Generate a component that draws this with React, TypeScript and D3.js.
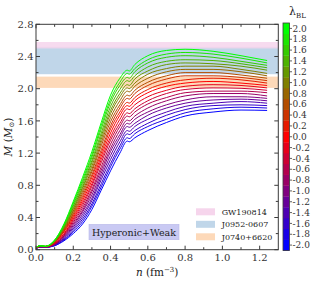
import React from "react";
import * as d3 from "d3";

// ---- data ----
const N_GRID = [0.003, 0.02, 0.05, 0.1, 0.15, 0.2, 0.25, 0.3, 0.35, 0.4, 0.45, 0.49, 0.5, 0.53, 0.6, 0.7, 0.8, 0.95, 1.1, 1.24];

const LAMBDA_BL = [-2.0, -1.8, -1.6, -1.4, -1.2, -1.0, -0.8, -0.6, -0.4, -0.2, 0.0, 0.2, 0.4, 0.6, 0.8, 1.0, 1.2, 1.4, 1.6, 1.8, 2.0];

const MASS_CURVES = [
  [0.02, 0.03, 0.03, 0.05, 0.11, 0.20, 0.32, 0.50, 0.74, 0.98, 1.20, 1.35, 1.34, 1.39, 1.48, 1.58, 1.66, 1.71, 1.735, 1.73],
  [0.02, 0.03, 0.03, 0.05, 0.12, 0.22, 0.35, 0.54, 0.78, 1.03, 1.25, 1.39, 1.38, 1.44, 1.53, 1.62, 1.70, 1.75, 1.77, 1.76],
  [0.02, 0.03, 0.03, 0.06, 0.13, 0.24, 0.38, 0.57, 0.82, 1.07, 1.29, 1.44, 1.43, 1.48, 1.57, 1.67, 1.74, 1.79, 1.80, 1.79],
  [0.02, 0.03, 0.03, 0.06, 0.14, 0.26, 0.41, 0.61, 0.87, 1.12, 1.34, 1.48, 1.47, 1.53, 1.62, 1.71, 1.78, 1.82, 1.84, 1.82],
  [0.02, 0.03, 0.03, 0.06, 0.15, 0.28, 0.44, 0.64, 0.91, 1.17, 1.39, 1.53, 1.52, 1.57, 1.67, 1.76, 1.82, 1.86, 1.87, 1.85],
  [0.02, 0.04, 0.03, 0.07, 0.16, 0.30, 0.47, 0.68, 0.95, 1.22, 1.43, 1.57, 1.56, 1.62, 1.71, 1.80, 1.86, 1.90, 1.90, 1.88],
  [0.02, 0.04, 0.03, 0.07, 0.17, 0.32, 0.49, 0.72, 0.99, 1.26, 1.48, 1.61, 1.60, 1.66, 1.76, 1.85, 1.91, 1.94, 1.94, 1.91],
  [0.02, 0.04, 0.04, 0.07, 0.18, 0.34, 0.52, 0.75, 1.03, 1.31, 1.53, 1.66, 1.65, 1.71, 1.81, 1.89, 1.95, 1.97, 1.97, 1.95],
  [0.02, 0.04, 0.04, 0.08, 0.19, 0.36, 0.55, 0.79, 1.08, 1.36, 1.57, 1.70, 1.69, 1.75, 1.85, 1.94, 1.99, 2.01, 2.005, 1.98],
  [0.02, 0.04, 0.04, 0.08, 0.20, 0.38, 0.58, 0.82, 1.12, 1.40, 1.62, 1.75, 1.74, 1.80, 1.90, 1.98, 2.03, 2.05, 2.04, 2.01],
  [0.03, 0.04, 0.04, 0.09, 0.22, 0.40, 0.61, 0.86, 1.16, 1.45, 1.67, 1.79, 1.78, 1.85, 1.95, 2.03, 2.07, 2.09, 2.07, 2.04],
  [0.03, 0.04, 0.04, 0.09, 0.23, 0.42, 0.64, 0.90, 1.20, 1.50, 1.71, 1.83, 1.82, 1.89, 1.99, 2.07, 2.11, 2.13, 2.11, 2.07],
  [0.03, 0.04, 0.04, 0.09, 0.24, 0.44, 0.67, 0.93, 1.24, 1.54, 1.76, 1.88, 1.87, 1.94, 2.04, 2.12, 2.16, 2.16, 2.14, 2.10],
  [0.03, 0.04, 0.04, 0.10, 0.25, 0.46, 0.70, 0.97, 1.29, 1.59, 1.80, 1.92, 1.91, 1.98, 2.08, 2.16, 2.20, 2.20, 2.17, 2.13],
  [0.03, 0.04, 0.04, 0.10, 0.26, 0.48, 0.73, 1.00, 1.33, 1.64, 1.85, 1.97, 1.96, 2.03, 2.13, 2.21, 2.24, 2.24, 2.21, 2.16],
  [0.03, 0.05, 0.04, 0.10, 0.27, 0.50, 0.76, 1.04, 1.37, 1.69, 1.90, 2.01, 2.00, 2.07, 2.18, 2.25, 2.28, 2.28, 2.24, 2.19],
  [0.03, 0.05, 0.04, 0.11, 0.28, 0.52, 0.78, 1.08, 1.41, 1.73, 1.94, 2.05, 2.04, 2.12, 2.22, 2.30, 2.32, 2.31, 2.28, 2.23],
  [0.03, 0.05, 0.04, 0.11, 0.29, 0.54, 0.81, 1.11, 1.45, 1.78, 1.99, 2.10, 2.09, 2.16, 2.27, 2.34, 2.36, 2.35, 2.31, 2.26],
  [0.03, 0.05, 0.04, 0.11, 0.30, 0.56, 0.84, 1.15, 1.50, 1.83, 2.04, 2.14, 2.13, 2.21, 2.32, 2.39, 2.41, 2.39, 2.34, 2.29],
  [0.03, 0.05, 0.04, 0.12, 0.31, 0.58, 0.87, 1.18, 1.54, 1.87, 2.08, 2.19, 2.18, 2.25, 2.36, 2.43, 2.45, 2.43, 2.38, 2.32],
  [0.03, 0.05, 0.045, 0.12, 0.32, 0.60, 0.90, 1.22, 1.58, 1.92, 2.13, 2.23, 2.22, 2.30, 2.41, 2.475, 2.49, 2.465, 2.41, 2.35],
];

const BAND_NAMES = ["GW190814", "J0952-0607", "J0740+6620"];
const BAND_LO = [2.50, 2.18, 2.01];
const BAND_HI = [2.58, 2.52, 2.15];
const BAND_COLORS = ["#f6d5ec", "#c0d6e9", "#fdd9b9"];

const X_TICKS = [0.0, 0.2, 0.4, 0.6, 0.8, 1.0, 1.2];
const Y_TICKS = [0.0, 0.4, 0.8, 1.2, 1.6, 2.0, 2.4, 2.8];
const CBAR_TICKS = [-2.0, -1.8, -1.6, -1.4, -1.2, -1.0, -0.8, -0.6, -0.4, -0.2, 0.0, 0.2, 0.4, 0.6, 0.8, 1.0, 1.2, 1.4, 1.6, 1.8, 2.0];

// ---- layout ----
const W = 317, H = 284;
const PL = 36, PR = 278.3, PT = 24.3, PB = 249.7;
const CB_X = 283, CB_W = 6.5, CB_T = 23, CB_B = 250.5;
const FONT = "'DejaVu Serif', serif";
const AXC = "#3a3a3a";

export default function App() {
  const x = d3.scaleLinear().domain([0, 1.3]).range([PL, PR]);
  const y = d3.scaleLinear().domain([0, 2.8]).range([PB, PT]);
  const color = d3.scaleLinear<string>().domain([-2, 0, 2]).range(["#0000ff", "#ff0000", "#00ff00"]).interpolate(d3.interpolateRgb);
  const cb = d3.scaleLinear().domain([-2.1, 2.1]).range([CB_B, CB_T]);

  const line = d3.line<number>()
    .x((_, i) => x(N_GRID[i]))
    .y((d) => y(d))
    .curve(d3.curveMonotoneX);

  const xMinor = d3.range(0, 13).map((i) => i * 0.1);
  const yMinor = d3.range(0, 15).map((i) => i * 0.2);

  const fmt = d3.format(".1f");

  return (
    <svg width={W} height={H} style={{ position: "absolute", left: 0, top: 0, background: "#fff" }} fontFamily={FONT}>
      <defs>
        <clipPath id="plotclip">
          <rect x={PL} y={PT} width={PR - PL} height={PB - PT} />
        </clipPath>
      </defs>
      {/* bands */}
      <g>
        {BAND_NAMES.map((nm, i) => (
          <rect key={nm} x={PL} width={PR - PL} y={y(BAND_HI[i])} height={y(BAND_LO[i]) - y(BAND_HI[i])} fill={BAND_COLORS[i]} opacity={i === 0 ? 0.85 : 1} />
        )).reverse()}
      </g>
      {/* curves */}
      <g clipPath="url(#plotclip)">
        {MASS_CURVES.map((c, k) => (
          <path key={k} d={line(c) || ""} fill="none" stroke={color(LAMBDA_BL[k])} strokeWidth={1} />
        ))}
      </g>
      {/* text box */}
      <rect x={89} y={224.3} width={90} height={15.4} fill="#c9c9f3" stroke="#b9b9ea" strokeWidth={0.6} />
      <text x={134} y={235.6} fontSize={9.5} textAnchor="middle" fill="#222">Hyperonic+Weak</text>
      {/* legend */}
      {BAND_NAMES.map((nm, i) => (
        <g key={nm}>
          <rect x={196} y={208.3 + i * 12.5} width={19} height={7} fill={BAND_COLORS[i]} />
          <text x={221.7} y={214.8 + i * 12.5} fontSize={8} fill="#222">{nm}</text>
        </g>
      ))}
      {/* frame */}
      <rect x={PL} y={PT} width={PR - PL} height={PB - PT} fill="none" stroke={AXC} strokeWidth={1} />
      {/* x ticks */}
      {xMinor.map((v, i) => {
        const len = i % 2 === 0 ? 4 : 2.5;
        return (
          <g key={"xt" + i} stroke={AXC} strokeWidth={1}>
            <line x1={x(v)} x2={x(v)} y1={PB} y2={PB - len} />
            <line x1={x(v)} x2={x(v)} y1={PT} y2={PT + len} />
          </g>
        );
      })}
      {yMinor.map((v, i) => {
        const len = i % 2 === 0 ? 4 : 2.5;
        return (
          <g key={"yt" + i} stroke={AXC} strokeWidth={1}>
            <line x1={PL} x2={PL + len} y1={y(v)} y2={y(v)} />
            <line x1={PR} x2={PR - len} y1={y(v)} y2={y(v)} />
          </g>
        );
      })}
      {X_TICKS.map((v) => (
        <text key={"xl" + v} x={x(v)} y={261} fontSize={10} textAnchor="middle" fill="#333">{fmt(v)}</text>
      ))}
      {Y_TICKS.map((v) => (
        <text key={"yl" + v} x={33.5} y={y(v) + 3.6} fontSize={10} textAnchor="end" fill="#333">{fmt(v)}</text>
      ))}
      {/* axis labels */}
      <text x={(PL + PR) / 2} y={276} fontSize={10.5} textAnchor="middle" fill="#222">
        <tspan fontStyle="italic">n</tspan>
        <tspan> (fm</tspan>
        <tspan fontSize={7} dy={-4}>−3</tspan>
        <tspan dy={4}>)</tspan>
      </text>
      <text transform={`translate(11.5, ${(PT + PB) / 2}) rotate(-90)`} fontSize={10.5} textAnchor="middle" fill="#222">
        <tspan fontStyle="italic">M</tspan>
        <tspan> (</tspan>
        <tspan fontStyle="italic">M</tspan>
        <tspan fontSize={7} dy={2.5}>⊙</tspan>
        <tspan dy={-2.5}>)</tspan>
      </text>
      {/* colorbar */}
      {LAMBDA_BL.map((l) => (
        <rect key={"cb" + l} x={CB_X} width={CB_W} y={cb(l + 0.1)} height={cb(l - 0.1) - cb(l + 0.1) + 0.3} fill={color(l)} />
      ))}
      <rect x={CB_X} y={CB_T} width={CB_W} height={CB_B - CB_T} fill="none" stroke={AXC} strokeWidth={0.8} />
      {CBAR_TICKS.map((v) => (
        <g key={"cbt" + v}>
          <line x1={CB_X + CB_W} x2={CB_X + CB_W + 2.5} y1={cb(v)} y2={cb(v)} stroke={AXC} strokeWidth={0.8} />
          <text x={CB_X + CB_W + 3} y={cb(v) + 3.2} fontSize={9} fill="#333">{v < 0 ? "-" + fmt(-v) : fmt(v)}</text>
        </g>
      ))}
      <text x={289} y={15} fontSize={11} fill="#222">
        <tspan>λ</tspan>
        <tspan fontSize={7} dy={2.5}>BL</tspan>
      </text>
    </svg>
  );
}
